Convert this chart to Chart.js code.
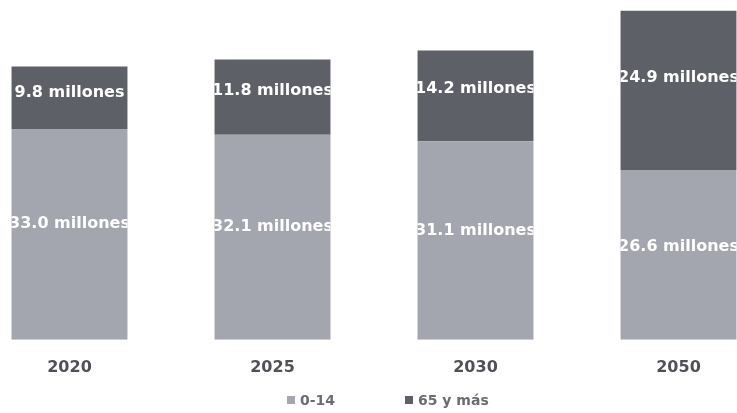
<!DOCTYPE html>
<html>
<head>
<meta charset="utf-8">
<script src="https://cdn.jsdelivr.net/npm/chart.js@4.4.1/dist/chart.umd.min.js"></script>
<style>
	html, body { margin: 0; padding: 0; background: #fff; overflow: hidden; }
	body { width: 737px; height: 413px; position: relative; }
	#wrap { position: absolute; left: -32px; top: 0; width: 812px; height: 413px; }
	#legend { position: absolute; left: 287px; top: 392px; font: bold 14px "DejaVu Sans", sans-serif; color: #6a6c73; white-space: nowrap; }
	#legend span.item { display: inline-block; width: 118px; }
	#legend span.box { display: inline-block; width: 8px; height: 8px; margin-right: 5px; vertical-align: 1px; }
</style>
</head>
<body>
<div id="wrap"><canvas id="chart" width="812" height="413"></canvas></div>
<div id="legend"></div>
<script>

var years = ['2020', '2025', '2030', '2050'];
var ninos = [33.0, 32.1, 31.1, 26.6];      // 0-14
var mayores = [9.8, 11.8, 14.2, 24.9];     // 65 y más
var seriesNames = ['0-14', '65 y más'];
var colors = ['#a3a6ae', '#5e6067'];

// white labels inside each segment, clipped to the bar like in the original
var segmentLabels = {
	id: 'segmentLabels',
	afterDatasetsDraw: function(chart) {
		var c = chart.ctx;
		chart.data.datasets.forEach(function(ds, i) {
			var meta = chart.getDatasetMeta(i);
			var frac = i == 0 ? 0.45 : 0.42;
			meta.data.forEach(function(bar, j) {
				var p = bar.getProps(['x', 'y', 'base', 'width'], true);
				var top = Math.min(p.y, p.base);
				var h = Math.abs(p.base - p.y);
				c.save();
				c.beginPath();
				c.rect(p.x - p.width / 2, top, p.width, h);
				c.clip();
				c.fillStyle = '#ffffff';
				c.font = 'bold 16px "DejaVu Sans", sans-serif';
				c.textAlign = 'center';
				c.textBaseline = 'middle';
				c.fillText(ds.data[j].toFixed(1) + ' millones', p.x, top + h * frac);
				c.restore();
			});
		});
	}
};

var ctx = document.getElementById('chart');
var chart = new Chart(ctx, {
	type: 'bar',
	data: {
		labels: years,
		datasets: [{
			label: seriesNames[0],
			backgroundColor: colors[0],
			data: ninos
		}, {
			label: seriesNames[1],
			backgroundColor: colors[1],
			data: mayores
		}]
	},
	options: {
		responsive: false,
		animation: false,
		categoryPercentage: 1,
		barPercentage: 0.571,
		layout: { padding: { top: 0, left: 0, right: 0, bottom: 18 } },
		plugins: {
			legend: { display: false },
			tooltip: { enabled: false }
		},
		scales: {
			x: {
				stacked: true,
				grid: { display: false, drawTicks: false },
				border: { display: false },
				ticks: { color: '#4f5157', padding: 18, font: { family: 'DejaVu Sans', size: 16, weight: 'bold' } }
			},
			y: {
				stacked: true,
				display: false,
				min: 0,
				max: 53.2
			}
		}
	},
	plugins: [segmentLabels]
});

// legend under the chart
var leg = document.getElementById('legend');
chart.data.datasets.forEach(function(ds) {
	leg.innerHTML += '<span class="item"><span class="box" style="background:' + ds.backgroundColor + '"></span>' + ds.label + '</span>';
});

</script>
</body>
</html>
